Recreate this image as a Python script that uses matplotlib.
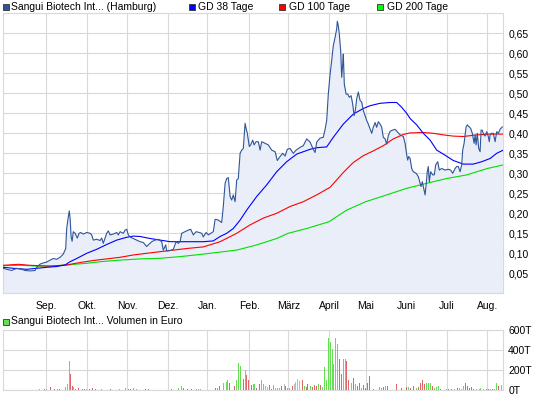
import matplotlib
matplotlib.use("Agg")
import matplotlib.pyplot as plt
from matplotlib.patches import Rectangle
from matplotlib.ticker import FixedLocator, FuncFormatter

# ---------------- data (x = trading-day index) ----------------
price_day = [0.3, 2.0, 4.5, 7.0, 9.5, 11.2, 13.7, 16.2, 17.0, 18.7, 20.3, 22.0, 23.7, 25.3, 27.0,
             28.7, 30.3, 31.5, 32.0, 32.8, 33.3, 33.7, 34.2, 34.7, 35.3, 36.2, 37.3, 38.2, 39.0,
             40.3, 42.0, 43.7, 44.5, 45.3, 47.0, 48.7, 49.5, 50.3, 52.0, 52.8, 53.7, 55.3, 57.0,
             57.8, 58.7, 60.3, 61.2, 62.0, 62.8, 64.0, 65.3, 67.0, 68.7, 70.3, 72.0, 72.8, 74.5,
             76.2, 77.8, 79.5, 80.3, 81.5, 82.0, 83.7, 85.3, 86.7, 87.8, 88.7, 89.5, 91.2, 92.8,
             94.0, 95.3, 96.7, 98.3, 99.5, 100.3, 101.7, 102.8, 104.0, 105.3, 106.2, 107.8, 109.5,
             110.3, 111.2, 112.0, 112.8, 113.7, 114.5, 115.3, 116.2, 117.0, 117.8, 118.7, 119.5,
             120.3, 121.2, 121.7, 122.3, 123.3, 124.0, 125.0, 125.7, 126.7, 127.8, 128.7, 129.5,
             131.2, 132.8, 134.5, 136.2, 137.3, 138.7, 140.0, 141.2, 142.3, 143.7, 145.3, 146.7,
             147.8, 148.7, 150.3, 152.0, 153.7, 155.3, 156.2, 157.0, 158.7, 160.3, 161.2, 162.0,
             162.8, 163.7, 164.5, 165.3, 166.2, 167.0, 167.3, 167.8, 168.3, 169.0, 169.5, 170.0,
             170.3, 170.8, 171.7, 172.5, 173.3, 174.2, 175.0, 175.7, 176.3, 177.0, 177.8, 178.7,
             179.5, 180.3, 181.2, 182.0, 182.8, 183.7, 184.5, 185.3, 186.2, 187.0, 187.8, 188.7,
             189.5, 190.3, 191.2, 192.0, 192.8, 193.7, 195.0, 196.2, 197.3, 198.7, 200.3, 201.2,
             202.0, 202.5, 203.0, 203.7, 204.5, 205.3, 206.7, 207.8, 208.7, 209.2, 209.8, 210.3,
             211.2, 211.7, 212.3, 212.8, 213.3, 214.0, 215.0, 215.8, 216.5, 217.5, 218.3, 219.5,
             221.2, 222.8, 224.0, 225.0, 226.2, 227.0, 227.8, 228.7, 229.5, 230.0, 230.7, 231.7,
             232.3, 233.3, 234.0, 234.8, 235.7, 236.2, 236.7, 237.3, 238.0, 238.7, 239.2, 239.7,
             240.3, 241.2, 242.0, 242.8, 243.3, 243.7, 244.5, 245.3, 246.2, 247.0, 247.8, 248.7,
             249.8]
price_val = [0.0625, 0.060, 0.057, 0.0625, 0.060, 0.057, 0.056, 0.057, 0.065, 0.073, 0.076, 0.078,
             0.083, 0.087, 0.085, 0.090, 0.098, 0.112, 0.162, 0.191, 0.206, 0.187, 0.142, 0.130,
             0.154, 0.150, 0.138, 0.150, 0.152, 0.148, 0.152, 0.150, 0.146, 0.133, 0.135, 0.132,
             0.138, 0.125, 0.150, 0.156, 0.146, 0.148, 0.152, 0.146, 0.154, 0.150, 0.158, 0.160,
             0.146, 0.140, 0.137, 0.133, 0.129, 0.127, 0.117, 0.121, 0.129, 0.133, 0.135, 0.129,
             0.108, 0.121, 0.106, 0.107, 0.110, 0.129, 0.125, 0.129, 0.150, 0.154, 0.158, 0.160,
             0.146, 0.154, 0.152, 0.150, 0.141, 0.152, 0.146, 0.150, 0.154, 0.185, 0.183, 0.177,
             0.217, 0.275, 0.287, 0.289, 0.242, 0.233, 0.246, 0.229, 0.283, 0.287, 0.350, 0.358,
             0.362, 0.425, 0.412, 0.400, 0.367, 0.371, 0.383, 0.371, 0.379, 0.379, 0.358, 0.379,
             0.375, 0.371, 0.358, 0.354, 0.332, 0.342, 0.350, 0.343, 0.360, 0.362, 0.350, 0.358,
             0.362, 0.365, 0.369, 0.386, 0.378, 0.360, 0.352, 0.378, 0.388, 0.390, 0.410, 0.432,
             0.498, 0.548, 0.582, 0.619, 0.640, 0.661, 0.680, 0.669, 0.648, 0.606, 0.540, 0.573,
             0.598, 0.523, 0.498, 0.498, 0.490, 0.494, 0.473, 0.444, 0.457, 0.486, 0.503, 0.482,
             0.478, 0.457, 0.444, 0.432, 0.423, 0.411, 0.400, 0.415, 0.427, 0.415, 0.429, 0.423,
             0.415, 0.390, 0.386, 0.373, 0.394, 0.405, 0.408, 0.410, 0.404, 0.396, 0.392, 0.375,
             0.346, 0.333, 0.342, 0.337, 0.312, 0.304, 0.300, 0.292, 0.275, 0.267, 0.279, 0.267,
             0.246, 0.271, 0.304, 0.317, 0.279, 0.304, 0.296, 0.296, 0.321, 0.329, 0.308, 0.312,
             0.308, 0.310, 0.308, 0.300, 0.312, 0.317, 0.317, 0.304, 0.321, 0.358, 0.375, 0.416,
             0.421, 0.416, 0.412, 0.400, 0.375, 0.396, 0.371, 0.400, 0.362, 0.354, 0.408, 0.408,
             0.400, 0.393, 0.404, 0.392, 0.379, 0.396, 0.400, 0.400, 0.379, 0.404, 0.400, 0.410,
             0.416]

gd38_day = [0.3, 5.3, 12.0, 17.0, 22.0, 27.0, 31.2, 33.7, 37.0, 42.0, 47.0, 52.0, 57.0, 62.0, 65.3,
            68.7, 73.7, 78.7, 83.7, 88.7, 100.3, 105.3, 108.7, 112.0, 115.3, 118.7, 122.0, 127.0,
            132.0, 137.0, 142.0, 147.0, 153.7, 157.0, 162.0, 165.3, 170.3, 175.3, 180.3, 183.7,
            188.7, 193.7, 197.0, 199.5, 202.0, 203.7, 207.0, 210.3, 213.7, 217.0, 220.3, 225.3,
            230.3, 235.3, 239.5, 243.7, 247.0, 250.3]
gd38_val = [0.065, 0.0625, 0.060, 0.0625, 0.065, 0.067, 0.0708, 0.079, 0.087, 0.100, 0.110, 0.122,
            0.133, 0.140, 0.143, 0.142, 0.137, 0.133, 0.129, 0.129, 0.129, 0.131, 0.142, 0.150,
            0.162, 0.183, 0.208, 0.242, 0.271, 0.304, 0.329, 0.348, 0.360, 0.364, 0.366, 0.390,
            0.423, 0.448, 0.462, 0.469, 0.475, 0.477, 0.477, 0.465, 0.450, 0.437, 0.421, 0.400,
            0.383, 0.358, 0.348, 0.332, 0.323, 0.323, 0.329, 0.337, 0.350, 0.358]

gd100_day = [0.3, 7.8, 13.7, 23.7, 32.0, 38.7, 45.3, 52.0, 58.7, 65.3, 72.0, 78.7, 83.7, 88.7,
             92.0, 100.3, 108.7, 117.0, 123.7, 130.3, 137.0, 143.7, 150.3, 157.0, 163.7, 170.3,
             175.3, 180.3, 185.3, 190.3, 195.3, 200.3, 203.7, 210.3, 215.3, 220.3, 225.3, 230.3,
             237.0, 243.7, 250.3]
gd100_val = [0.070, 0.0725, 0.070, 0.068, 0.0708, 0.077, 0.082, 0.086, 0.090, 0.0958, 0.100, 0.104,
             0.107, 0.110, 0.112, 0.116, 0.129, 0.150, 0.171, 0.188, 0.200, 0.217, 0.229, 0.246,
             0.265, 0.302, 0.327, 0.344, 0.356, 0.369, 0.386, 0.397, 0.401, 0.402, 0.400, 0.396,
             0.393, 0.392, 0.396, 0.398, 0.398]

gd200_day = [0.3, 8.7, 17.0, 25.3, 33.7, 42.0, 48.7, 58.7, 68.7, 78.7, 88.7, 100.3, 117.0, 127.0,
             137.0, 142.7, 152.0, 163.2, 172.0, 181.5, 192.0, 201.7, 212.0, 222.0, 232.0, 242.3,
             250.3]
gd200_val = [0.069, 0.070, 0.068, 0.068, 0.0717, 0.075, 0.079, 0.083, 0.086, 0.0875, 0.0917, 0.098,
             0.108, 0.121, 0.137, 0.150, 0.162, 0.179, 0.208, 0.229, 0.246, 0.262, 0.275, 0.287,
             0.296, 0.312, 0.321]

vol_day = [18.3, 20.9, 21.7, 23.8, 25.9, 27.3, 28.5, 31.3, 32.2, 33.2, 33.9, 34.8, 35.6, 36.5, 37.7,
           39.8, 40.7, 42.1, 43.4, 44.7, 46.4, 49.3, 53.9, 58.5, 61.2, 62.9, 64.1, 65.5, 66.7, 71.6,
           73.0, 84.6, 88.1, 89.3, 90.3, 92.4, 94.5, 96.7, 98.0, 99.0, 106.3, 107.3, 108.2, 110.6,
           111.7, 112.5, 113.6, 115.8, 116.9, 118.1, 119.1, 120.2, 121.2, 122.1, 123.1, 124.2,
           125.2, 126.1, 127.1, 128.3, 129.4, 130.2, 131.3, 132.3, 133.4, 134.4, 135.5, 136.3,
           137.5, 138.6, 139.6, 140.7, 141.5, 142.6, 143.6, 144.7, 145.7, 146.6, 147.6, 148.6,
           149.7, 150.7, 151.8, 152.6, 153.7, 154.7, 155.8, 156.8, 157.9, 158.9, 159.9, 160.8,
           161.8, 162.9, 163.8, 164.8, 165.3, 166.4, 167.2, 168.3, 169.3, 170.4, 171.2, 172.1,
           173.1, 174.2, 175.2, 176.3, 177.3, 178.2, 179.2, 180.3, 181.3, 182.3, 183.4, 185.3,
           188.4, 189.3, 190.3, 191.4, 192.4, 196.9, 199.5, 201.8, 203.0, 204.0, 205.2, 207.0,
           207.9, 209.1, 210.1, 211.0, 212.0, 213.1, 213.9, 215.0, 216.0, 217.1, 218.1, 219.1,
           221.7, 223.0, 224.4, 226.1, 227.3, 228.3, 229.5, 230.6, 231.5, 232.5, 233.5, 234.6,
           235.6, 236.8, 238.2, 239.1, 240.3, 241.7, 242.7, 243.8, 244.8, 245.7, 246.7, 247.8,
           249.5]
vol_val = [13, 10, 10, 33, 10, 10, 10, 33, 63, 290, 160, 40, 30, 13, 20,
           10, 10, 13, 13, 20, 10, 10, 10, 10, 17, 10, 13, 23, 13, 10,
           10, 10, 17, 40, 17, 10, 10, 10, 10, 10, 20, 23, 40, 73,
           80, 100, 67, 40, 100, 267, 240, 113, 200, 150, 100, 53,
           60, 60, 20, 60, 100, 60, 40, 30, 47, 13, 47, 20,
           20, 20, 40, 57, 37, 20, 20, 40, 63, 80, 113, 87,
           100, 40, 27, 63, 40, 33, 53, 40, 57, 47, 30, 233,
           100, 517, 480, 407, 257, 517, 457, 307, 160, 307, 313, 290,
           100, 73, 123, 57, 40, 67, 23, 53, 23, 73, 140, 13,
           27, 23, 33, 37, 40, 57, 20, 27, 33, 23, 40, 20,
           33, 67, 100, 57, 73, 67, 73, 40, 23, 30, 40, 13,
           10, 10, 10, 13, 20, 23, 13, 40, 67, 40, 23, 27,
           10, 13, 13, 23, 10, 10, 10, 13, 10, 13, 67, 40,
           47]
# g = up day, r = down day, y = unchanged
vol_dir = list("grgrrgrggg" "rrgrrrrgrr" "rgrggrrggr" "rrggrrrggg" "rgrgggrrgg"
               "grgrrrggrr" "ggyyrrgggg" "ryrggryyyy" "rgrrgrrrgr" "gggggggggr"
               "rggrrgrgrr" "grrrrrggrg" "rrrrgrrgrr" "rrgggrgggr" "grrgrgggrr"
               "rrrggggrrg" "rggrg")

month_pos = [21.8, 42.3, 62.3, 82.8, 102.3, 123.3, 142.8, 163.3, 181.5, 201.7, 222.0, 242.3]
month_lbl = ["Sep.", "Okt.", "Nov.", "Dez.", "Jan.", "Feb.", "März", "April", "Mai", "Juni",
             "Juli", "Aug."]
price_ticks = [0.05, 0.10, 0.15, 0.20, 0.25, 0.30, 0.35, 0.40, 0.45, 0.50, 0.55, 0.60, 0.65]
vol_ticks = [0, 200, 400, 600]

# ---------------- styling ----------------
FONT = "Liberation Sans"
FS = 7.5
GRID = "#d9d9d9"
PRICE = "#2f5597"
FILL = "#e9eef8"
LW = 0.8

fig = plt.figure(figsize=(5.45, 3.98), dpi=100)
W, H = 545, 398
def box(x0, y0, x1, y1):
    return [x0 / W, 1 - y1 / H, (x1 - x0) / W, (y1 - y0) / H]

ax = fig.add_axes(box(2.7, 13.3, 503.3, 293.3))
axv = fig.add_axes(box(2.7, 330.0, 503.3, 390.0))

for a in (ax, axv):
    a.set_xlim(0, 250.3)
    for s in a.spines.values():
        s.set_color(GRID)
        s.set_linewidth(0.8)
    a.xaxis.set_major_locator(FixedLocator(month_pos))
    a.grid(True, color=GRID, linewidth=0.8)
    a.set_axisbelow(True)
    a.tick_params(length=0, labelsize=FS, colors="#000000", pad=3.5)
    a.yaxis.tick_right()

# price panel
ax.set_ylim(0, 0.70)
ax.yaxis.set_major_locator(FixedLocator(price_ticks + [0.70]))
ax.yaxis.set_major_formatter(FuncFormatter(
    lambda v, p: "" if v > 0.675 else ("%.2f" % v).replace(".", ",")))
ax.set_xticklabels(month_lbl, fontsize=FS, family=FONT)
ax.tick_params(axis="x", pad=5.5)
for t in ax.get_yticklabels():
    t.set_family(FONT)
ax.fill_between(price_day, price_val, 0, color=FILL, linewidth=0, zorder=1)
ax.plot(gd200_day, gd200_val, color="#00e000", linewidth=LW, zorder=3)
ax.plot(gd100_day, gd100_val, color="#ff0000", linewidth=LW, zorder=3)
ax.plot(gd38_day, gd38_val, color="#0000ff", linewidth=LW, zorder=3)
ax.plot(price_day, price_val, color=PRICE, linewidth=LW, zorder=4)

# volume panel
colmap = {"g": "#66dd55", "r": "#dd6666", "y": "#bbbbbb"}
vcols = [colmap[c] for c in vol_dir]
axv.set_ylim(0, 600)
axv.yaxis.set_major_locator(FixedLocator(vol_ticks))
axv.yaxis.set_major_formatter(FuncFormatter(lambda v, p: "%dT" % v))
axv.set_xticklabels([])
for t in axv.get_yticklabels():
    t.set_family(FONT)
axv.bar(vol_day, vol_val, width=0.55, color=vcols, linewidth=0, zorder=3)

# legends
def legend_item(x, y, color, label, gap=8.5, edge="#333333"):
    fig.patches.append(Rectangle((x / W, 1 - (y + 3) / H), 6 / W, 6 / H,
                                 transform=fig.transFigure, facecolor=color,
                                 edgecolor=edge, linewidth=0.6))
    fig.text((x + gap) / W, 1 - y / H, label, fontsize=FS, family=FONT,
             va="center", ha="left")

legend_item(2.5, 7, "#2f5597", "Sangui Biotech Int... (Hamburg)")
legend_item(188.5, 7, "#0000ff", "GD 38 Tage", gap=10)
legend_item(279.5, 7, "#ff0000", "GD 100 Tage", gap=10)
legend_item(377, 7, "#00ff00", "GD 200 Tage", gap=10)
legend_item(2.5, 321.5, "#66dd55", "Sangui Biotech Int... Volumen in Euro")

fig.savefig("out.png", dpi=100)
